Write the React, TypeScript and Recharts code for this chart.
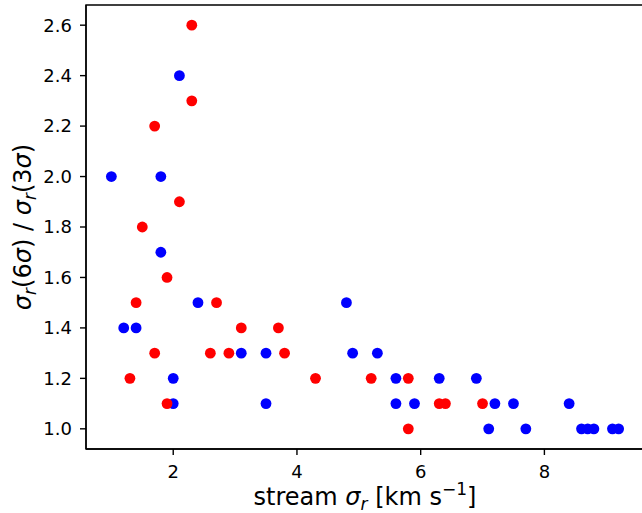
import { ScatterChart, Scatter, XAxis, YAxis, ReferenceArea } from "recharts"

const blueSigma = [2.1, 1.0, 1.8, 1.8, 2.4, 4.8, 1.2, 1.4, 3.1, 3.5, 4.9, 5.3, 2.0, 5.6, 6.3, 6.9, 2.0, 3.5, 5.6, 5.9, 7.2, 7.5, 8.4, 7.1, 7.7, 8.6, 8.7, 8.8, 9.1, 9.2]
const blueRatio = [2.4, 2.0, 2.0, 1.7, 1.5, 1.5, 1.4, 1.4, 1.3, 1.3, 1.3, 1.3, 1.2, 1.2, 1.2, 1.2, 1.1, 1.1, 1.1, 1.1, 1.1, 1.1, 1.1, 1.0, 1.0, 1.0, 1.0, 1.0, 1.0, 1.0]

const redSigma = [2.3, 2.3, 1.7, 2.1, 1.5, 1.9, 1.4, 2.7, 3.1, 3.7, 1.7, 2.6, 2.9, 3.8, 1.3, 4.3, 5.2, 5.8, 1.9, 6.3, 6.4, 7.0, 5.8]
const redRatio = [2.6, 2.3, 2.2, 1.9, 1.8, 1.6, 1.5, 1.5, 1.4, 1.4, 1.3, 1.3, 1.3, 1.3, 1.2, 1.2, 1.2, 1.2, 1.1, 1.1, 1.1, 1.1, 1.0]

const xTicks = [2, 4, 6, 8]
const yTicks = [1.0, 1.2, 1.4, 1.6, 1.8, 2.0, 2.2, 2.4, 2.6]

const X_DOMAIN: [number, number] = [0.59, 9.61]
const Y_DOMAIN: [number, number] = [0.92, 2.68]

const blueData = blueSigma.map((x, i) => ({ x, y: blueRatio[i] }))
const redData = redSigma.map((x, i) => ({ x, y: redRatio[i] }))

const FONT = "DejaVu Sans"

const dot = (color: string) => (props: any) =>
  <circle cx={props.cx} cy={props.cy} r={5.4} fill={color} />

const XLabel = (props: any) => {
  const vb = props.viewBox
  const cx = vb.x + vb.width / 2
  return (
    <text x={cx} y={505} textAnchor="middle" fontSize={24} fontFamily={FONT} fill="#000">
      <tspan>stream </tspan>
      <tspan fontStyle="italic">σ</tspan>
      <tspan fontStyle="italic" fontSize={17} dy={5}>r</tspan>
      <tspan dy={-5}> [km s</tspan>
      <tspan fontSize={17} dy={-10}>−1</tspan>
      <tspan dy={10}>]</tspan>
    </text>
  )
}

const YLabel = (props: any) => {
  const vb = props.viewBox
  const cy = vb.y + vb.height / 2
  const x = 31
  return (
    <text x={x} y={cy} transform={`rotate(-90, ${x}, ${cy})`} textAnchor="middle" fontSize={24} fontFamily={FONT} fill="#000">
      <tspan fontStyle="italic">σ</tspan>
      <tspan fontStyle="italic" fontSize={17} dy={5}>r</tspan>
      <tspan dy={-5}>(6</tspan>
      <tspan fontStyle="italic">σ</tspan>
      <tspan>) / </tspan>
      <tspan fontStyle="italic">σ</tspan>
      <tspan fontStyle="italic" fontSize={17} dy={5}>r</tspan>
      <tspan dy={-5}>(3</tspan>
      <tspan fontStyle="italic">σ</tspan>
      <tspan>)</tspan>
    </text>
  )
}

const tickStyle = { fontSize: 18, fontFamily: FONT, fill: "#000" }

export default function App() {
  return (
    <div style={{ position: "absolute", left: 0, top: 0, width: 642, height: 513, overflow: "hidden", background: "#fff" }}>
      <ScatterChart width={660} height={513} margin={{ top: 5, right: 16, bottom: 0, left: 0 }}>
        <XAxis
          type="number"
          dataKey="x"
          domain={X_DOMAIN}
          ticks={xTicks}
          allowDataOverflow
          height={64}
          tick={tickStyle}
          tickSize={6}
          tickMargin={10}
          axisLine={{ stroke: "#000", strokeWidth: 1.4 }}
          tickLine={{ stroke: "#000", strokeWidth: 1.4 }}
          label={<XLabel />}
        />
        <YAxis
          type="number"
          dataKey="y"
          domain={Y_DOMAIN}
          ticks={yTicks}
          allowDataOverflow
          width={86}
          tick={tickStyle}
          tickSize={6}
          tickMargin={8}
          tickFormatter={(v: number) => v.toFixed(1)}
          axisLine={{ stroke: "#000", strokeWidth: 1.4 }}
          tickLine={{ stroke: "#000", strokeWidth: 1.4 }}
          label={<YLabel />}
        />
        <ReferenceArea x1={X_DOMAIN[0]} x2={X_DOMAIN[1]} y1={Y_DOMAIN[0]} y2={Y_DOMAIN[1]} fill="none" fillOpacity={0} stroke="#000" strokeWidth={1.4} />
        <Scatter data={blueData} fill="#0000ff" shape={dot("#0000ff")} isAnimationActive={false} />
        <Scatter data={redData} fill="#ff0000" shape={dot("#ff0000")} isAnimationActive={false} />
      </ScatterChart>
    </div>
  )
}
